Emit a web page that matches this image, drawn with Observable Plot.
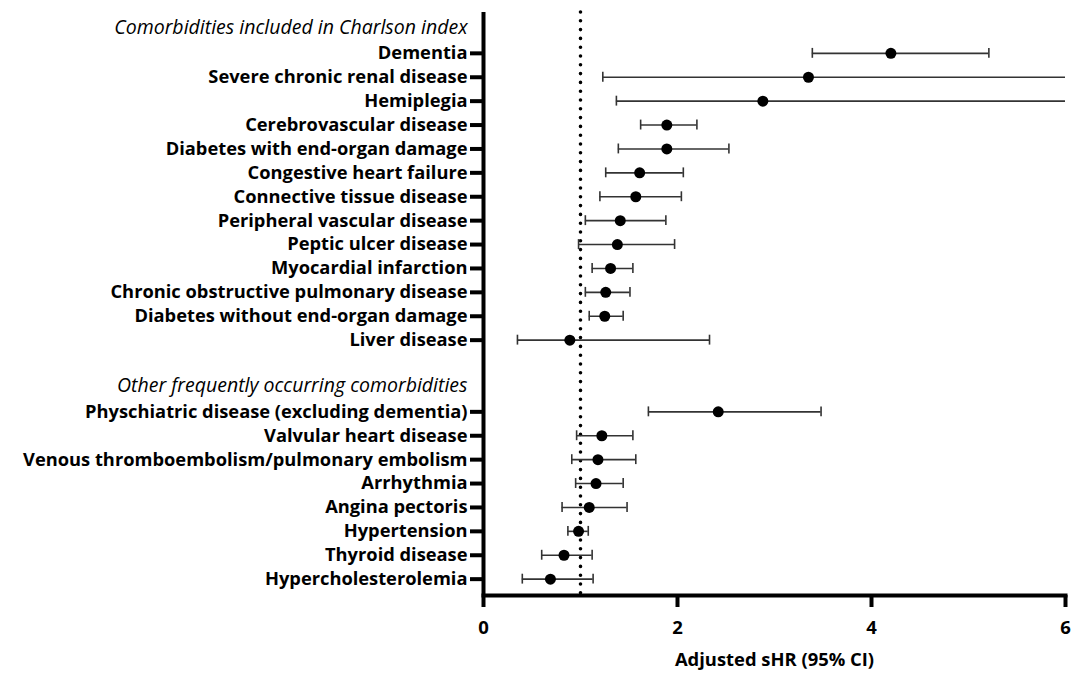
<!DOCTYPE html>
<html><head><meta charset="utf-8">
<script src="https://cdn.jsdelivr.net/npm/d3@7"></script>
<script src="https://cdn.jsdelivr.net/npm/@observablehq/plot@0.6"></script>
<style>body{margin:0;background:#fff}</style>
</head><body><div id="chart"></div>
<script>
const charlsonHeader = "Comorbidities included in Charlson index";
const otherHeader = "Other frequently occurring comorbidities";
const spacer = " ";

const charlsonNames = ["Dementia","Severe chronic renal disease","Hemiplegia","Cerebrovascular disease","Diabetes with end-organ damage","Congestive heart failure","Connective tissue disease","Peripheral vascular disease","Peptic ulcer disease","Myocardial infarction","Chronic obstructive pulmonary disease","Diabetes without end-organ damage","Liver disease"];
const charlsonEst = [4.20, 3.35, 2.88, 1.89, 1.89, 1.61, 1.57, 1.41, 1.38, 1.31, 1.26, 1.25, 0.89];
const charlsonLo  = [3.39, 1.23, 1.37, 1.62, 1.39, 1.26, 1.20, 1.05, 0.98, 1.12, 1.05, 1.09, 0.35];
const charlsonHi  = [5.21, 9.30, 9.00, 2.20, 2.53, 2.06, 2.04, 1.88, 1.97, 1.54, 1.51, 1.44, 2.33];

const otherNames = ["Physchiatric disease (excluding dementia)","Valvular heart disease","Venous thromboembolism/pulmonary embolism","Arrhythmia","Angina pectoris","Hypertension","Thyroid disease","Hypercholesterolemia"];
const otherEst = [2.42, 1.22, 1.18, 1.16, 1.09, 0.98, 0.83, 0.69];
const otherLo  = [1.70, 0.96, 0.91, 0.95, 0.81, 0.87, 0.60, 0.40];
const otherHi  = [3.48, 1.54, 1.57, 1.44, 1.48, 1.08, 1.12, 1.13];

const xTicks = [0, 2, 4, 6];
const xTitle = "Adjusted sHR (95% CI)";

const rows = [
  ...charlsonNames.map((n, i) => ({name: n, est: charlsonEst[i], lo: charlsonLo[i], hi: charlsonHi[i]})),
  ...otherNames.map((n, i) => ({name: n, est: otherEst[i], lo: otherLo[i], hi: otherHi[i]}))
];
const domain = [charlsonHeader, ...charlsonNames, spacer, otherHeader, ...otherNames];
const labelNames = [...charlsonNames, ...otherNames];

const plot = Plot.plot({
  width: 1073, height: 682,
  marginLeft: 483, marginRight: 8, marginTop: 12, marginBottom: 87,
  style: {fontFamily: "'Open Sans', sans-serif", background: "#fff", color: "#000"},
  x: {domain: [0, 6]},
  y: {type: "band", domain, padding: 0, round: false, insetTop: 5, insetBottom: 4.4},
  marks: [
    Plot.ruleX([1], {stroke: "#000", strokeWidth: 3.6, strokeDasharray: "0 8.8", strokeLinecap: "round"}),
    Plot.ruleY(rows, {y: "name", x1: "lo", x2: "hi", stroke: "#333", strokeWidth: 1.6, clip: true}),
    Plot.tickX(rows, {x: "lo", y: "name", stroke: "#333", strokeWidth: 1.6, insetTop: 7, insetBottom: 7, clip: true}),
    Plot.tickX(rows, {x: "hi", y: "name", stroke: "#333", strokeWidth: 1.6, insetTop: 7, insetBottom: 7, clip: true}),
    Plot.dot(rows, {x: "est", y: "name", r: 5.5, fill: "#000", stroke: null}),
    Plot.axisY(labelNames, {tickSize: 13, strokeWidth: 4, fontSize: 18.3, fontWeight: "bold", tickPadding: 3, label: null, fill: "#000"}),
    Plot.text([charlsonHeader, otherHeader], {x: 0, y: d => d, text: d => d, textAnchor: "end", dx: -16, dy: -2, fontStyle: "italic", fontSize: 19.5, fill: "#000"}),
    Plot.ruleX([0], {stroke: "#000", strokeWidth: 4}),
    Plot.frame({anchor: "bottom", stroke: "#000", strokeWidth: 4}),
    Plot.axisX(xTicks, {tickSize: 12, strokeWidth: 4, fontSize: 18.5, fontWeight: "bold", tickPadding: 13, label: null, fill: "#000"}),
    Plot.text([xTitle], {frameAnchor: "bottom", dy: 70, fontWeight: "bold", fontSize: 18.4, fill: "#000"})
  ]
});
document.getElementById("chart").appendChild(plot);
</script>
</body></html>
